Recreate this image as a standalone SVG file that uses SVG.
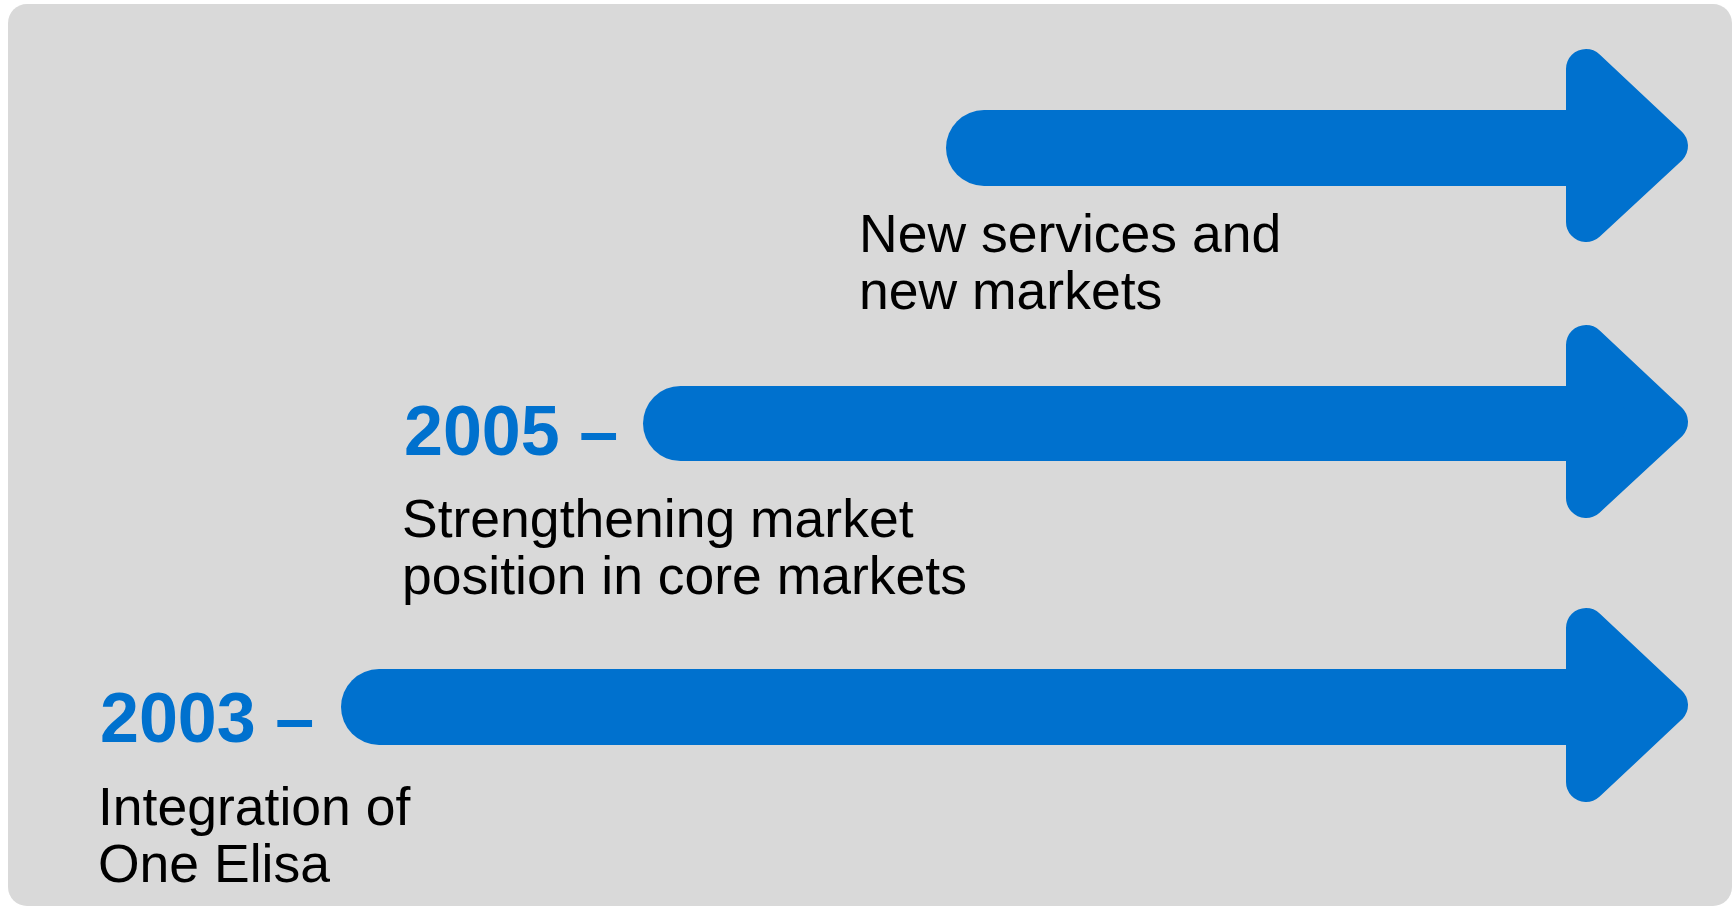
<svg xmlns="http://www.w3.org/2000/svg" width="1736" height="906" viewBox="0 0 1736 906">
  <style>
    .panel { fill: #D9D9D9; }
    .shaft { fill: #0071CE; }
    .head { fill: #0071CE; stroke: #0071CE; stroke-width: 40; stroke-linejoin: round; }
    .year { font-family: "Liberation Sans", Arial, sans-serif; font-weight: bold; font-size: 70px; fill: #0071CE; }
    .desc { font-family: "Liberation Sans", Arial, sans-serif; font-size: 53.5px; fill: #000000; }
  </style>

  <!-- background panel -->
  <rect class="panel" x="8" y="4" width="1724" height="902" rx="19" ry="19"/>

  <!-- stage 3: new services and new markets -->
  <g id="stage-new-markets">
    <rect class="shaft" x="946" y="110" width="704" height="76" rx="38" ry="38"/>
    <path class="head" d="M1586,69 L1668,146 L1586,222 Z"/>
    <text class="desc" x="859" y="252">New services and</text>
    <text class="desc" x="859" y="309">new markets</text>
  </g>

  <!-- stage 2: 2005 onwards -->
  <g id="stage-2005">
    <rect class="shaft" x="643" y="386" width="1007" height="75" rx="37.5" ry="37.5"/>
    <path class="head" d="M1586,345 L1668,422 L1586,498 Z"/>
    <text class="year" x="404" y="455">2005 –</text>
    <text class="desc" x="402" y="537">Strengthening market</text>
    <text class="desc" x="402" y="594">position in core markets</text>
  </g>

  <!-- stage 1: 2003 onwards -->
  <g id="stage-2003">
    <rect class="shaft" x="341" y="669" width="1309" height="76" rx="38" ry="38"/>
    <path class="head" d="M1586,628 L1668,705 L1586,782 Z"/>
    <text class="year" x="100" y="742">2003 –</text>
    <text class="desc" x="98" y="825">Integration of</text>
    <text class="desc" x="98" y="882">One Elisa</text>
  </g>

  <!-- no connectors between stages -->
  <g id="connectors"/>
</svg>
